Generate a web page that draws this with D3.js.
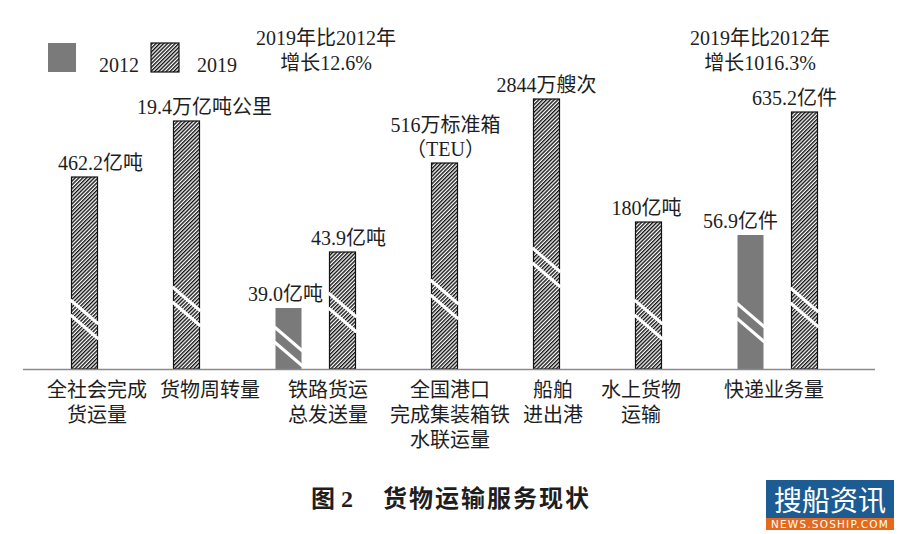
<!DOCTYPE html>
<html>
<head>
<meta charset="utf-8">
<script src="https://cdn.jsdelivr.net/npm/d3@7"></script>
<style>
body { margin: 0; background: #fff; }
svg text { font-family: "Liberation Serif", "Noto Sans CJK SC", serif; fill: #1e1e1e; }
</style>
</head>
<body>
<div id="chart-area"></div>
<script>
var categories = [["全社会完成", "货运量"], ["货物周转量"], ["铁路货运", "总发送量"],
    ["全国港口", "完成集装箱铁", "水联运量"], ["船舶", "进出港"], ["水上货物", "运输"], ["快递业务量"]];
var years = ["2012", "2019"];
// drawn bar heights (the axis is broken, so these are picture units, not the real values)
var height2012 = [null, null, 61, null, null, null, 134];
var height2019 = [192, 248, 117, 206, 270, 147, 257];
// where the break marks cut each bar, same units
var break2012 = [null, null, 42, null, null, null, 66];
var break2019 = [69, 82, 76, 89, 121, 69, 81];
var labels2012 = [null, null, ["39.0亿吨"], null, null, null, ["56.9亿件"]];
var labels2019 = [["462.2亿吨"], ["19.4万亿吨公里"], ["43.9亿吨"], ["516万标准箱", "（TEU）"],
    ["2844万艘次"], ["180亿吨"], ["635.2亿件"]];
var growthNotes = [["2019年比2012年", "增长12.6%"], ["2019年比2012年", "增长1016.3%"]];
var titleNum = "图 2", titleText = "货物运输服务现状";

var W = 900, H = 534;
var barWidth = 26, pairStep = 54 / 102;

var svg = d3.select("#chart-area")
    .append("svg")
    .attr("width", W)
    .attr("height", H);

var defs = svg.append("defs");
defs.append("pattern")
    .attr("id", "hatch")
    .attr("patternUnits", "userSpaceOnUse")
    .attr("width", 2.7)
    .attr("height", 2.7)
    .attr("patternTransform", "rotate(45)")
    .call(p => {
        p.append("rect").attr("width", 2.7).attr("height", 2.7).attr("fill", "#fff");
        p.append("line").attr("x1", 0.7).attr("x2", 0.7).attr("y1", 0).attr("y2", 2.7)
            .attr("stroke", "#111").attr("stroke-width", 1.4);
    });

// lay the bars out: one step between categories, a shorter step inside a pair
var bars = [];
var pos = -1;
categories.forEach((c, i) => {
    pos += 1;
    var first = true;
    [[height2012, break2012, labels2012, "2012"], [height2019, break2019, labels2019, "2019"]].forEach(s => {
        if (s[0][i] == null) return;
        if (!first) pos += pairStep;
        first = false;
        bars.push({ cat: i, year: s[3], h: s[0][i], brk: s[1][i], label: s[2][i], pos: pos });
    });
});

var x = d3.scaleLinear()
    .domain([0, pos])
    .range([84.5, 804.5]);

var y = d3.scaleLinear()
    .domain([0, 300])
    .range([369, 69]);

var catCenter = categories.map((c, i) => d3.mean(bars.filter(b => b.cat === i), b => x(b.pos)));
var xCat = d3.scaleOrdinal()
    .domain(categories.map((c, i) => i))
    .range(catCenter);

// bars
var g = svg.append("g");
g.selectAll(".bar")
    .data(bars)
    .enter()
    .append("rect")
    .attr("class", "bar")
    .attr("x", d => x(d.pos) - barWidth / 2)
    .attr("y", d => y(d.h))
    .attr("width", barWidth)
    .attr("height", d => y(0) - y(d.h))
    .attr("fill", d => d.year === "2012" ? "#7a7a7a" : "url(#hatch)")
    .attr("stroke", d => d.year === "2012" ? "none" : "#111")
    .attr("stroke-width", 1.2);

// break marks
bars.forEach(d => {
    var x0 = x(d.pos) - barWidth / 2 - 1, x1 = x(d.pos) + barWidth / 2 + 1;
    [0, 15].forEach(off => {
        g.append("line")
            .attr("x1", x0).attr("y1", y(d.brk) + off)
            .attr("x2", x1).attr("y2", y(d.brk) + off + 24)
            .attr("stroke", "#fff")
            .attr("stroke-width", 3);
    });
});

// baseline
svg.append("line")
    .attr("x1", 23).attr("x2", 875)
    .attr("y1", y(0) + 0.5).attr("y2", y(0) + 0.5)
    .attr("stroke", "#8a8a8a")
    .attr("stroke-width", 1.5);

// value labels
var labelShift = [16, 18, -3, 6, 1, 0, -2, -10, -10];
bars.forEach((d, i) => {
    var t = svg.append("text")
        .attr("text-anchor", "middle")
        .attr("font-size", 20);
    d.label.forEach((line, k) => {
        t.append("tspan")
            .attr("x", x(d.pos) + labelShift[i])
            .attr("y", y(d.h) - 7 - (d.label.length - 1 - k) * 24)
            .text(line);
    });
});

// category axis
var catShift = [12, 23, 12, 5, 6, -8, -4];
var axis = svg.append("g")
    .attr("class", "x-axis")
    .attr("transform", "translate(0," + y(0) + ")")
    .call(d3.axisBottom(xCat).tickSize(0).tickFormat(""));
axis.select(".domain").remove();
axis.selectAll(".tick").each(function(i) {
    var t = d3.select(this).select("text")
        .attr("font-size", 20)
        .attr("text-anchor", "middle")
        .attr("fill", "#1e1e1e")
        .attr("dy", null)
        .attr("y", null);
    categories[i].forEach((line, k) => {
        t.append("tspan")
            .attr("x", catShift[i])
            .attr("y", 28 + k * 25)
            .text(line);
    });
});

// legend
var legend = svg.append("g");
years.forEach((yr, i) => {
    legend.append("rect")
        .attr("x", 48 + i * 103).attr("y", 43)
        .attr("width", 28).attr("height", 29)
        .attr("fill", yr === "2012" ? "#7a7a7a" : "url(#hatch)")
        .attr("stroke", yr === "2012" ? "none" : "#111")
        .attr("stroke-width", 1.2);
    legend.append("text")
        .attr("x", 99 + i * 98).attr("y", 72)
        .attr("font-size", 20)
        .text(yr);
});

// growth notes
[326, 760].forEach((cx, i) => {
    growthNotes[i].forEach((line, k) => {
        svg.append("text")
            .attr("x", cx).attr("y", 45 + k * 25)
            .attr("text-anchor", "middle")
            .attr("font-size", 20)
            .text(line);
    });
});

// caption
svg.append("text")
    .attr("x", 311).attr("y", 507)
    .attr("font-size", 24)
    .attr("font-weight", "bold")
    .text(titleNum);
svg.append("text")
    .attr("x", 383).attr("y", 507)
    .attr("font-size", 24)
    .attr("letter-spacing", 2)
    .attr("font-weight", "bold")
    .text(titleText);

// watermark
var wm = svg.append("g");
wm.append("rect").attr("x", 766).attr("y", 480).attr("width", 128).attr("height", 38).attr("fill", "#1d5b93");
wm.append("rect").attr("x", 766).attr("y", 518).attr("width", 128).attr("height", 12).attr("fill", "#e4691c");
wm.append("text").attr("x", 830).attr("y", 511).attr("text-anchor", "middle")
    .attr("font-size", 28).style("font-family", "'Noto Sans CJK SC'").style("fill", "#fff")
    .text("搜船资讯");
wm.append("text").attr("x", 830).attr("y", 528).attr("text-anchor", "middle")
    .attr("font-size", 10.5).attr("letter-spacing", 1.2).style("font-family", "'DejaVu Sans'").style("fill", "#fff")
    .text("NEWS.SOSHIP.COM");
</script>
</body>
</html>
